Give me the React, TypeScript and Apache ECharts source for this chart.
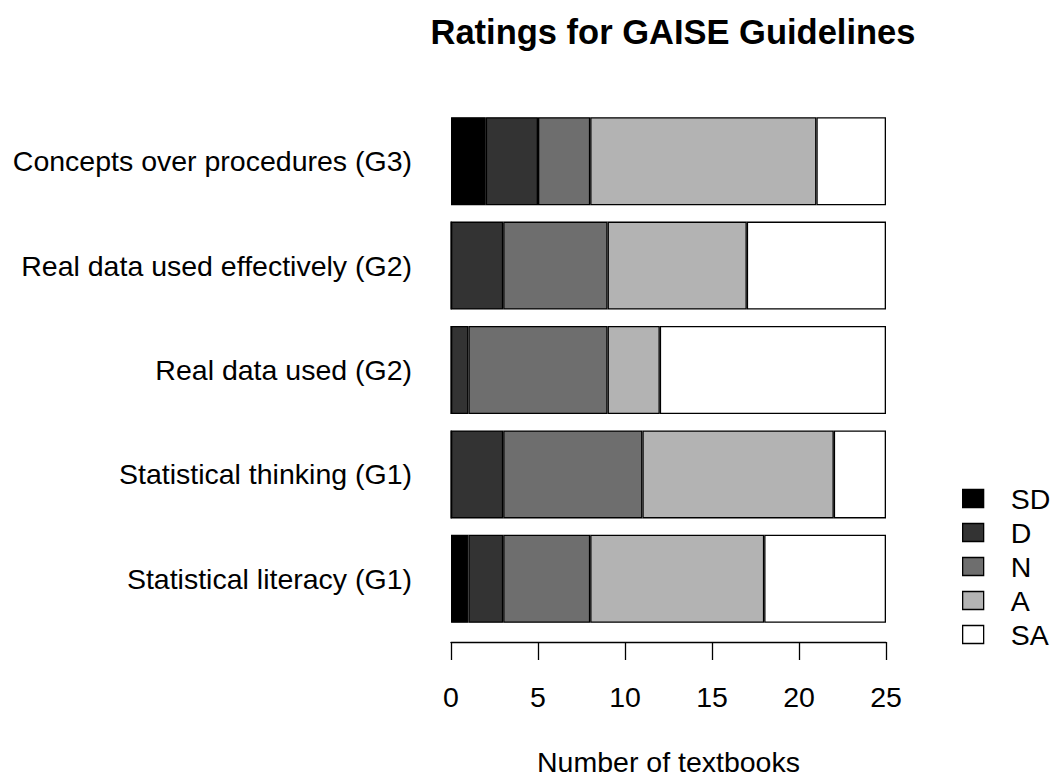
import React, { useEffect, useRef } from "react";
import * as echarts from "echarts";

const categories = [
  "Statistical literacy (G1)",
  "Statistical thinking (G1)",
  "Real data used (G2)",
  "Real data used effectively (G2)",
  "Concepts over procedures (G3)",
];
const ratingNames = ["SD", "D", "N", "A", "SA"];
const ratingColors = ["#000000", "#333333", "#6e6e6e", "#b3b3b3", "#ffffff"];
const sdValues = [1, 0, 0, 0, 2];
const dValues = [2, 3, 1, 3, 3];
const nValues = [5, 8, 8, 6, 3];
const aValues = [10, 11, 3, 8, 13];
const saValues = [7, 3, 13, 8, 4];
const xTicks = [0, 5, 10, 15, 20, 25];

const FONT = "'Liberation Sans', Arial, Helvetica, sans-serif";

export default function App() {
  const ref = useRef<HTMLDivElement>(null);
  useEffect(() => {
    document.body.style.margin = "0";
    const chart = echarts.init(ref.current!, null, { renderer: "svg" });
    const seriesValues = [sdValues, dValues, nValues, aValues, saValues];
    chart.setOption({
      animation: false,
      backgroundColor: "#ffffff",
      textStyle: { fontFamily: FONT },
      title: {
        text: "Ratings for GAISE Guidelines",
        left: 668,
        textAlign: "center",
        top: 9,
        textStyle: { fontFamily: FONT, fontSize: 34.5, fontWeight: "bold", color: "#000" },
      },
      legend: {
        orient: "vertical",
        left: 962,
        top: 484,
        padding: 0,
        itemWidth: 21,
        itemHeight: 18,
        itemGap: 5,
        icon: "rect",
        data: ratingNames,
        itemStyle: { borderColor: "#000", borderWidth: 1.3 },
        textStyle: {
          fontFamily: FONT,
          fontSize: 28.5,
          lineHeight: 28,
          color: "#000",
          padding: [0, 0, 0, 22],
        },
      },
      grid: {
        left: 451,
        right: 164,
        top: 109,
        bottom: 146,
        containLabel: false,
        outerBoundsMode: "none",
      },
      xAxis: {
        type: "value",
        min: xTicks[0],
        max: xTicks[xTicks.length - 1],
        interval: xTicks[1] - xTicks[0],
        offset: 11,
        splitLine: { show: false },
        axisLine: { show: true, lineStyle: { color: "#000", width: 1.3 } },
        axisTick: { show: true, length: 18, lineStyle: { color: "#000", width: 1.3 } },
        axisLabel: { fontFamily: FONT, fontSize: 28.5, color: "#000", margin: 40 },
        name: "Number of textbooks",
        nameLocation: "middle",
        nameGap: 106,
        nameTextStyle: { fontFamily: FONT, fontSize: 28.5, lineHeight: 28, color: "#000" },
      },
      yAxis: {
        type: "category",
        data: categories,
        axisLine: { show: false },
        axisTick: { show: false },
        axisLabel: { fontFamily: FONT, fontSize: 28.5, color: "#000", margin: 39 },
      },
      series: ratingNames.map((name, i) => ({
        name,
        type: "bar",
        stack: "total",
        barWidth: 88,
        data: seriesValues[i],
        itemStyle: { color: ratingColors[i], borderColor: "#000", borderWidth: 1.3 },
      })),
    });
    return () => chart.dispose();
  }, []);
  return <div ref={ref} style={{ width: 1050, height: 777 }} />;
}
